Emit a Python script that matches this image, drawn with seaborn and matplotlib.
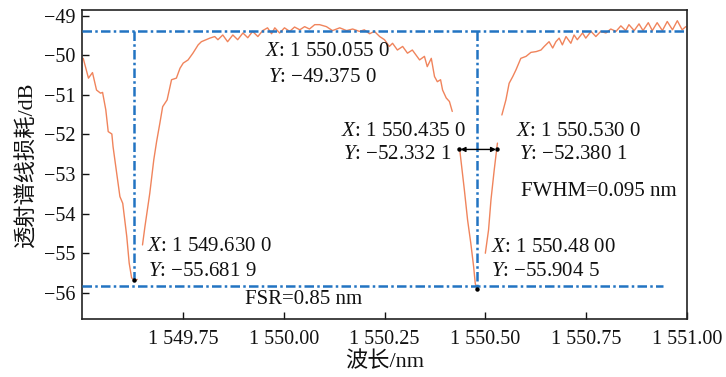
import numpy as np
import pandas as pd
import matplotlib
matplotlib.use("Agg")
import matplotlib.pyplot as plt
import seaborn as sns

# ---- data ----
seg1_x = [1549.503, 1549.516, 1549.526, 1549.536, 1549.546, 1549.551, 1549.559, 1549.565,
          1549.574, 1549.577, 1549.586, 1549.594, 1549.601, 1549.611, 1549.617, 1549.623,
          1549.631, 1549.637]
seg1_y = [-50.08, -50.58, -50.44, -50.88, -50.96, -50.94, -51.38, -51.93,
          -51.99, -52.31, -52.98, -53.57, -53.74, -54.58, -55.25, -55.62,
          -55.70, -55.66]

seg2_x = [1549.650, 1549.656, 1549.668, 1549.678, 1549.685, 1549.693, 1549.700, 1549.711,
          1549.722, 1549.734, 1549.743, 1549.751, 1549.763, 1549.775, 1549.788, 1549.796,
          1549.817, 1549.829, 1549.837, 1549.849, 1549.861, 1549.874, 1549.886, 1549.899,
          1549.911, 1549.923, 1549.936, 1549.948, 1549.960, 1549.970, 1549.978, 1549.990,
          1550.002, 1550.015, 1550.027, 1550.040, 1550.052, 1550.064, 1550.077, 1550.089,
          1550.106, 1550.121, 1550.139, 1550.156, 1550.171, 1550.188, 1550.200, 1550.213,
          1550.225, 1550.238, 1550.250, 1550.262, 1550.270, 1550.282, 1550.295, 1550.307,
          1550.319, 1550.337, 1550.349, 1550.356, 1550.366, 1550.374, 1550.381, 1550.389,
          1550.394, 1550.403, 1550.411, 1550.418]
seg2_y = [-54.79, -54.33, -53.49, -52.64, -52.18, -51.72, -51.30, -51.13,
          -50.62, -50.58, -50.33, -50.20, -50.12, -49.95, -49.74, -49.66,
          -49.57, -49.53, -49.61, -49.49, -49.66, -49.49, -49.61, -49.44,
          -49.56, -49.40, -49.53, -49.38, -49.31, -49.46, -49.31, -49.44,
          -49.31, -49.40, -49.29, -49.36, -49.28, -49.34, -49.23, -49.23,
          -49.28, -49.38, -49.31, -49.38, -49.34, -49.40, -49.36, -49.46,
          -49.40, -49.53, -49.61, -49.78, -49.70, -49.87, -49.78, -49.95,
          -49.87, -50.12, -50.03, -50.29, -50.08, -50.54, -50.67, -50.62,
          -50.88, -51.08, -51.17, -51.42]

seg3_x = [1550.437, 1550.448, 1550.456, 1550.464, 1550.471, 1550.475, 1550.479]
seg3_y = [-52.43, -53.40, -54.16, -54.75, -55.34, -55.76, -55.92]

seg4_x = [1550.500, 1550.508, 1550.514, 1550.522, 1550.528, 1550.530]
seg4_y = [-55.00, -54.41, -53.65, -52.90, -52.39, -52.22]

seg5_x = [1550.541, 1550.551, 1550.559, 1550.568, 1550.576, 1550.588, 1550.601, 1550.613,
          1550.626, 1550.638, 1550.646, 1550.658, 1550.667, 1550.675, 1550.683, 1550.691,
          1550.700, 1550.712, 1550.720, 1550.728, 1550.741, 1550.749, 1550.762, 1550.774,
          1550.786, 1550.799, 1550.811, 1550.824, 1550.836, 1550.848, 1550.856, 1550.869,
          1550.881, 1550.891, 1550.904, 1550.914, 1550.926, 1550.939, 1550.951, 1550.964,
          1550.976, 1550.988, 1550.997]
seg5_y = [-51.51, -51.13, -50.71, -50.54, -50.37, -50.08, -50.03, -49.93,
          -49.91, -49.87, -49.78, -49.66, -49.82, -49.66, -49.57, -49.74,
          -49.53, -49.70, -49.49, -49.61, -49.44, -49.57, -49.40, -49.53,
          -49.40, -49.44, -49.34, -49.40, -49.26, -49.38, -49.23, -49.38,
          -49.21, -49.38, -49.18, -49.38, -49.18, -49.38, -49.15, -49.36,
          -49.13, -49.36, -49.28]

# data tips
tip_x = [1549.630, 1550.480]
tip_y = [-55.6819, -55.9045]
top_level = -49.40
bottom_level = -55.83
bottom_end = 1550.94
fwhm_x = [1550.435, 1550.530]
fwhm_y = -52.38

xticks = [1549.75, 1550.00, 1550.25, 1550.50, 1550.75, 1551.00]
xtick_labels = ["1 549.75", "1 550.00", "1 550.25", "1 550.50", "1 550.75", "1 551.00"]
yticks = [-56, -55, -54, -53, -52, -51, -50, -49]
ytick_labels = ["\u221256", "\u221255", "\u221254", "\u221253", "\u221252", "\u221251", "\u221250", "\u221249"]

# ---- style ----
sns.set_theme(style="white")
plt.rcParams["font.family"] = ["Liberation Serif", "Noto Sans CJK SC"]
plt.rcParams["mathtext.fontset"] = "custom"
plt.rcParams["mathtext.it"] = "Liberation Serif:italic"
plt.rcParams["mathtext.rm"] = "Liberation Serif"

BLUE = "#2274c2"
ORANGE = "#f0845c"
FS = 14.5
FS_ANN = 15

segs = [(seg1_x, seg1_y), (seg2_x, seg2_y), (seg3_x, seg3_y), (seg4_x, seg4_y), (seg5_x, seg5_y)]
rows = []
for i, (xs, ys) in enumerate(segs):
    for x, y in zip(xs, ys):
        rows.append({"wl": x, "loss": y, "seg": i})
df = pd.DataFrame(rows)

fig = plt.figure(figsize=(7.26, 3.77), dpi=100)
ax = fig.add_axes([82 / 726, 1 - 319 / 377, (687 - 82) / 726, (319 - 10) / 377])

sns.lineplot(data=df, x="wl", y="loss", units="seg", estimator=None, color=ORANGE,
             lw=1.0, ax=ax, zorder=2)

dash = (3.8, 1.3, 1.0, 1.3)
ax.plot([1549.5, 1551.0], [top_level, top_level], color=BLUE, lw=1.8, dashes=dash, zorder=3)
ax.plot([1549.5, bottom_end], [bottom_level, bottom_level], color=BLUE, lw=1.8, dashes=dash, zorder=3)
for x, y in zip(tip_x, tip_y):
    ax.plot([x, x], [top_level, y], color=BLUE, lw=1.8, dashes=dash, zorder=3)
ax.plot(tip_x, tip_y, "o", color="black", ms=2.2, zorder=4)
ax.plot(fwhm_x, [fwhm_y, fwhm_y], "o", color="black", ms=2.2, zorder=4)
ax.annotate("", xy=(fwhm_x[1], fwhm_y), xytext=(fwhm_x[0], fwhm_y),
            arrowprops=dict(arrowstyle="<|-|>", color="black", lw=1.0,
                            shrinkA=1, shrinkB=1, mutation_scale=7), zorder=4)

texts = [
    (1549.953, -49.91, "$X$: 1 550.055 0"),
    (1549.960, -50.56, "$Y$: \u221249.375 0"),
    (1550.141, -51.92, "$X$: 1 550.435 0"),
    (1550.146, -52.52, "$Y$: \u221252.332 1"),
    (1550.577, -51.92, "$X$: 1 550.530 0"),
    (1550.583, -52.52, "$Y$: \u221252.380 1"),
    (1550.588, -53.44, "FWHM=0.095 nm"),
    (1549.661, -54.83, "$X$: 1 549.630 0"),
    (1549.663, -55.45, "$Y$: \u221255.681 9"),
    (1549.905, -56.16, "FSR=0.85 nm"),
    (1550.513, -54.85, "$X$: 1 550.48 00"),
    (1550.513, -55.45, "$Y$: \u221255.904 5"),
]
for x, y, s in texts:
    ax.text(x, y, s, ha="left", va="center", fontsize=FS_ANN, color="#111111", zorder=5)

ax.set_xlim(1549.5, 1551.0)
ax.set_ylim(-56.66, -48.86)
ax.set_xticks(xticks)
ax.set_xticklabels(xtick_labels)
ax.set_yticks(yticks)
ax.set_yticklabels(ytick_labels)
ax.tick_params(axis="both", direction="in", length=5, width=1.0, labelsize=FS,
               colors="#111111", top=False, right=False, bottom=True, left=True)
ax.tick_params(axis="x", pad=8)
ax.tick_params(axis="y", pad=5)
for sp in ax.spines.values():
    sp.set_visible(True)
    sp.set_color("#222222")
    sp.set_linewidth(1.2)

ax.set_xlabel("波长/nm", fontsize=16, color="#111111", labelpad=2)
ax.set_ylabel("透射谱线损耗/dB", fontsize=16, color="#111111", labelpad=4)

fig.savefig("out.png", dpi=100)
